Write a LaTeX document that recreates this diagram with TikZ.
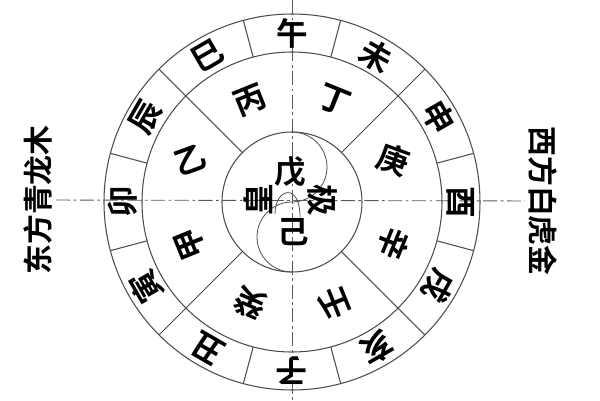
\documentclass[tikz,border=0pt]{standalone}
\usepackage{fontspec}
\newfontfamily\cjk{Noto Sans CJK SC}[BoldFont={Noto Sans CJK SC Bold}]

\begin{document}
\begin{tikzpicture}[x=0.02cm, y=0.02cm,
		ring/.style={draw=black!70, line width=0.6pt},
		axis/.style={draw=black!65, line width=0.5pt, dash pattern=on 8pt off 2pt on 1.5pt off 2pt},
		zi/.style={font=\cjk\bfseries\fontsize{18}{18}\selectfont, inner sep=0pt},
		fang/.style={font=\cjk\bfseries\fontsize{17}{17}\selectfont, inner sep=2pt}]
				\useasboundingbox (-292,-198) rectangle (308,202);

				% rings
				\draw [ring] (0,0) circle (188);
				\draw [ring] (0,0) circle (150);
				\draw [ring] (0,0) circle (70);
				\foreach \a in {15,45,...,345}
					\draw [ring] (\a:150) -- (\a:188);
				\foreach \a in {45,135,225,315}
					\draw [ring] (\a:70) -- (\a:150);

				% taiji curve
				\draw [ring, line width=0.45pt] (0,70) arc[start angle=90, end angle=-90, radius=35]
					arc[start angle=90, end angle=270, radius=35];
				\draw [ring, line width=0.45pt] (-17,-12) .. controls (-17,14) and (8,20) .. (8,-15);

				% side labels and axes
				\node [fang, rotate=90] (dong) at (-254,2) {东方青龙木};
				\node [fang, rotate=-90] (xi) at (251,1) {西方白虎金};
				\coordinate (top) at (0,202);
				\coordinate (bottom) at (0,-198);
				\draw [axis] (dong) -- (xi);
				\draw [axis] (top) -- (bottom);

				% twelve branches
				\node [zi] (wu) at (90:169) {午};
				\node [zi, rotate=-30] (wei) at (60:169) {未};
				\node [zi, rotate=-60] (shen) at (30:169) {申};
				\node [zi, rotate=-90] (you) at (0:169) {酉};
				\node [zi, rotate=-120] (xu) at (-30:169) {戌};
				\node [zi, rotate=-150] (hai) at (-60:169) {亥};
				\node [zi, rotate=180] (zi) at (-90:169) {子};
				\node [zi, rotate=150] (chou) at (-120:169) {丑};
				\node [zi, rotate=120] (yin) at (-150:169) {寅};
				\node [zi, rotate=90] (mao) at (180:169) {卯};
				\node [zi, rotate=60] (chen) at (150:169) {辰};
				\node [zi, rotate=30] (si) at (120:169) {巳};

				% ten stems
				\node [zi, rotate=-22] (ding) at (67.5:110) {丁};
				\node [zi, rotate=22] (bing) at (112.5:110) {丙};
				\node [zi, rotate=20] (yi) at (157.5:110) {乙};
				\node [zi, rotate=112] (jia) at (202.5:110) {甲};
				\node [zi, rotate=157] (gui) at (247.5:110) {癸};
				\node [zi, rotate=112] (ren) at (292.5:110) {壬};
				\node [zi, rotate=-112] (xin) at (337.5:110) {辛};
				\node [zi, rotate=-20] (geng) at (22.5:110) {庚};
				\node [zi] (wuz) at (-2,30) {戊};
				\node [zi] (ji) at (1,-30) {己};
				\node [zi, rotate=90] (huang) at (-34,2) {皇};
				\node [zi, rotate=-90] (jiz) at (31,2) {极};
		\end{tikzpicture}
\end{document}
